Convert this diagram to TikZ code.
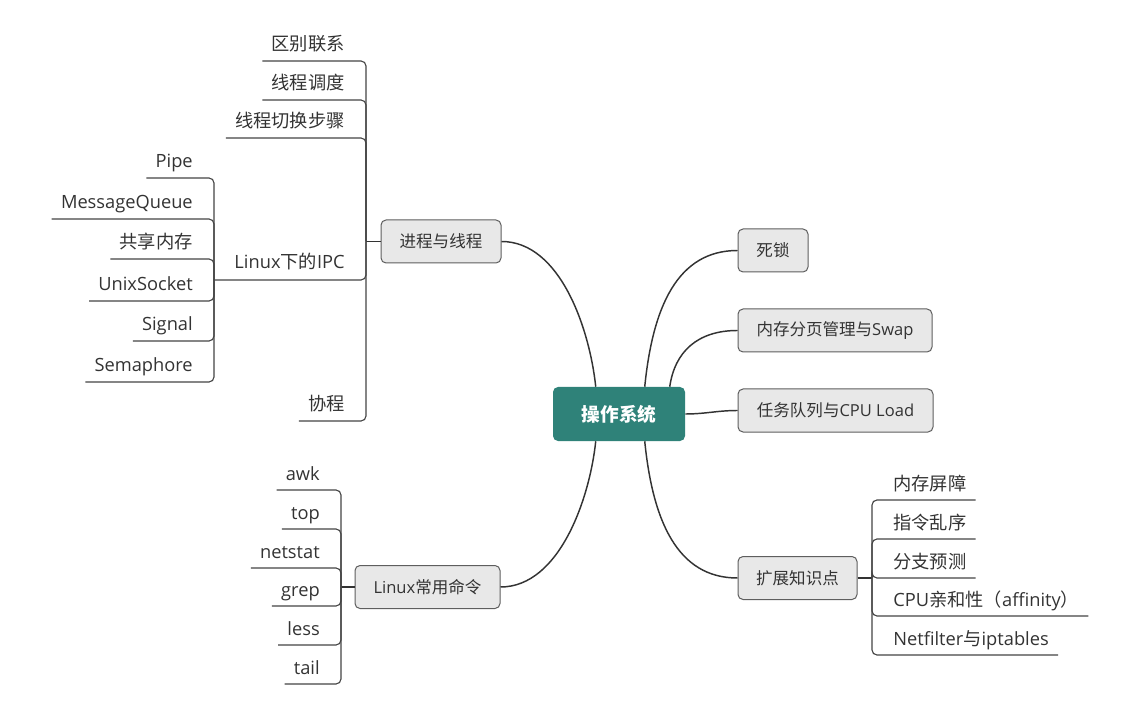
\documentclass[tikz,border=0pt]{standalone}
\usepackage{fontspec}
\setmainfont{Open Sans}
\newfontfamily\cjkf{Noto Sans CJK SC}
\newcommand\zhs[1]{{\cjkf #1}}
\usetikzlibrary{calc}
\definecolor{tealroot}{HTML}{2F8279}
\definecolor{boxfill}{HTML}{E8E8E8}
\definecolor{boxline}{HTML}{5E5E5E}
\definecolor{linec}{HTML}{333333}
\definecolor{ulc}{HTML}{444444}
\definecolor{txt}{HTML}{333333}
\newcommand\litem[5]{%
  \node[leaf,anchor=base east] (#1) at ({#2-12},{#3-10}) {#5};
  \draw[underl] ($(#1.base west)+(0,10)$) -| (#4);}
\newcommand\ritem[5]{%
  \node[leaf,anchor=base west] (#1) at ({#2+12},{#3-10}) {#5};
  \draw[underl] (#4) |- ($(#1.base east)+(0,10)$);}
\begin{document}
\begin{tikzpicture}[x=0.75pt,y=-0.75pt,
  conn/.style={draw=linec, line width=1.1pt},
  underl/.style={draw=ulc, line width=0.85pt, rounded corners=3.75pt},
  leaf/.style={font=\fontsize{13.7}{16}\selectfont, text=txt, inner xsep=6.75pt, inner ysep=0pt},
  topic/.style={draw=boxline, fill=boxfill, rounded corners=3.75pt, line width=0.75pt,
    font=\fontsize{12.4}{15}\selectfont, text=txt, minimum height=32.25pt, inner sep=0pt},
  rootbox/.style={fill=tealroot, rounded corners=3.75pt, text=white,
    font=\fontsize{14}{16}\selectfont\bfseries, minimum width=99pt, minimum height=40.5pt, inner sep=0pt}]
\useasboundingbox (0,0) rectangle (1134,712);

% root and main topics
\node[rootbox] (root) at (619,414) {\zhs{操作系统}};
\node[topic, minimum width=90pt] (p) at (441,241.5) {\zhs{进程与线程}};
\node[topic, minimum width=108.75pt] (lc) at (427.5,587) {Linux\zhs{常用命令}};
\node[topic, minimum width=52.5pt] (dl) at (773,250.5) {\zhs{死锁}};
\node[topic, minimum width=145.5pt] (sw) at (835,330.5) {\zhs{内存分页管理与}Swap};
\node[topic, minimum width=146.25pt] (tq) at (835.5,410.5) {\zhs{任务队列与}CPU Load};
\node[topic, minimum width=89.25pt] (ex) at (797.5,578) {\zhs{扩展知识点}};

% curves from root
\draw[conn] ($(root.north west)+(43,0)$) .. controls +(-6,-57) and +(59,0) .. (p.east);
\draw[conn] ($(root.south west)+(43,0)$) .. controls +(-6,57) and +(59,0) .. (lc.east);
\draw[conn] ($(root.north west)+(92,0)$) .. controls +(8,-80) and +(-60,0) .. (dl.west);
\draw[conn] ($(root.north west)+(117,0)$) .. controls +(5,-35) and +(-40,0) .. (sw.west);
\draw[conn] (root.east) .. controls +(20,0) and +(-20,0) .. (tq.west);
\draw[conn] ($(root.south west)+(92,0)$) .. controls +(8,80) and +(-60,0) .. (ex.west);

% junctions
\coordinate (j1) at (366,241.5);
\coordinate (j2) at (214,280);
\coordinate (j3) at (341,587);
\coordinate (j4) at (872,578);
\draw[conn] (p.west) -- (j1);
\draw[conn] (lc.west) -- (j3);
\draw[conn] (ex.east) -- (j4);

% 进程与线程
\litem{a1}{366}{61}{j1}{\zhs{区别联系}}
\litem{a2}{366}{100}{j1}{\zhs{线程调度}}
\litem{a3}{366}{138}{j1}{\zhs{线程切换步骤}}
\node[leaf,anchor=base east] (ipc) at (354,269) {Linux\zhs{下的}IPC};
\draw[underl] (j2) -| (j1);
\litem{a5}{366}{421}{j1}{\zhs{协程}}

% IPC
\litem{b1}{214}{178}{j2}{Pipe}
\litem{b2}{214}{219}{j2}{MessageQueue}
\litem{b3}{214}{259}{j2}{\zhs{共享内存}}
\litem{b4}{214}{301}{j2}{UnixSocket}
\litem{b5}{214}{341}{j2}{Signal}
\litem{b6}{214}{382}{j2}{Semaphore}

% Linux常用命令
\litem{c1}{341}{490}{j3}{awk}
\litem{c2}{341}{529}{j3}{top}
\litem{c3}{341}{568}{j3}{netstat}
\litem{c4}{341}{606}{j3}{grep}
\litem{c5}{341}{645}{j3}{less}
\litem{c6}{341}{684}{j3}{tail}

% 扩展知识点
\ritem{d1}{872}{500}{j4}{\zhs{内存屏障}}
\ritem{d2}{872}{539}{j4}{\zhs{指令乱序}}
\ritem{d3}{872}{578}{j4}{\zhs{分支预测}}
\ritem{d4}{872}{616}{j4}{CPU\zhs{亲和性（}affinity\zhs{）}}
\ritem{d5}{872}{655}{j4}{Netfilter\zhs{与}iptables}
\end{tikzpicture}
\end{document}
